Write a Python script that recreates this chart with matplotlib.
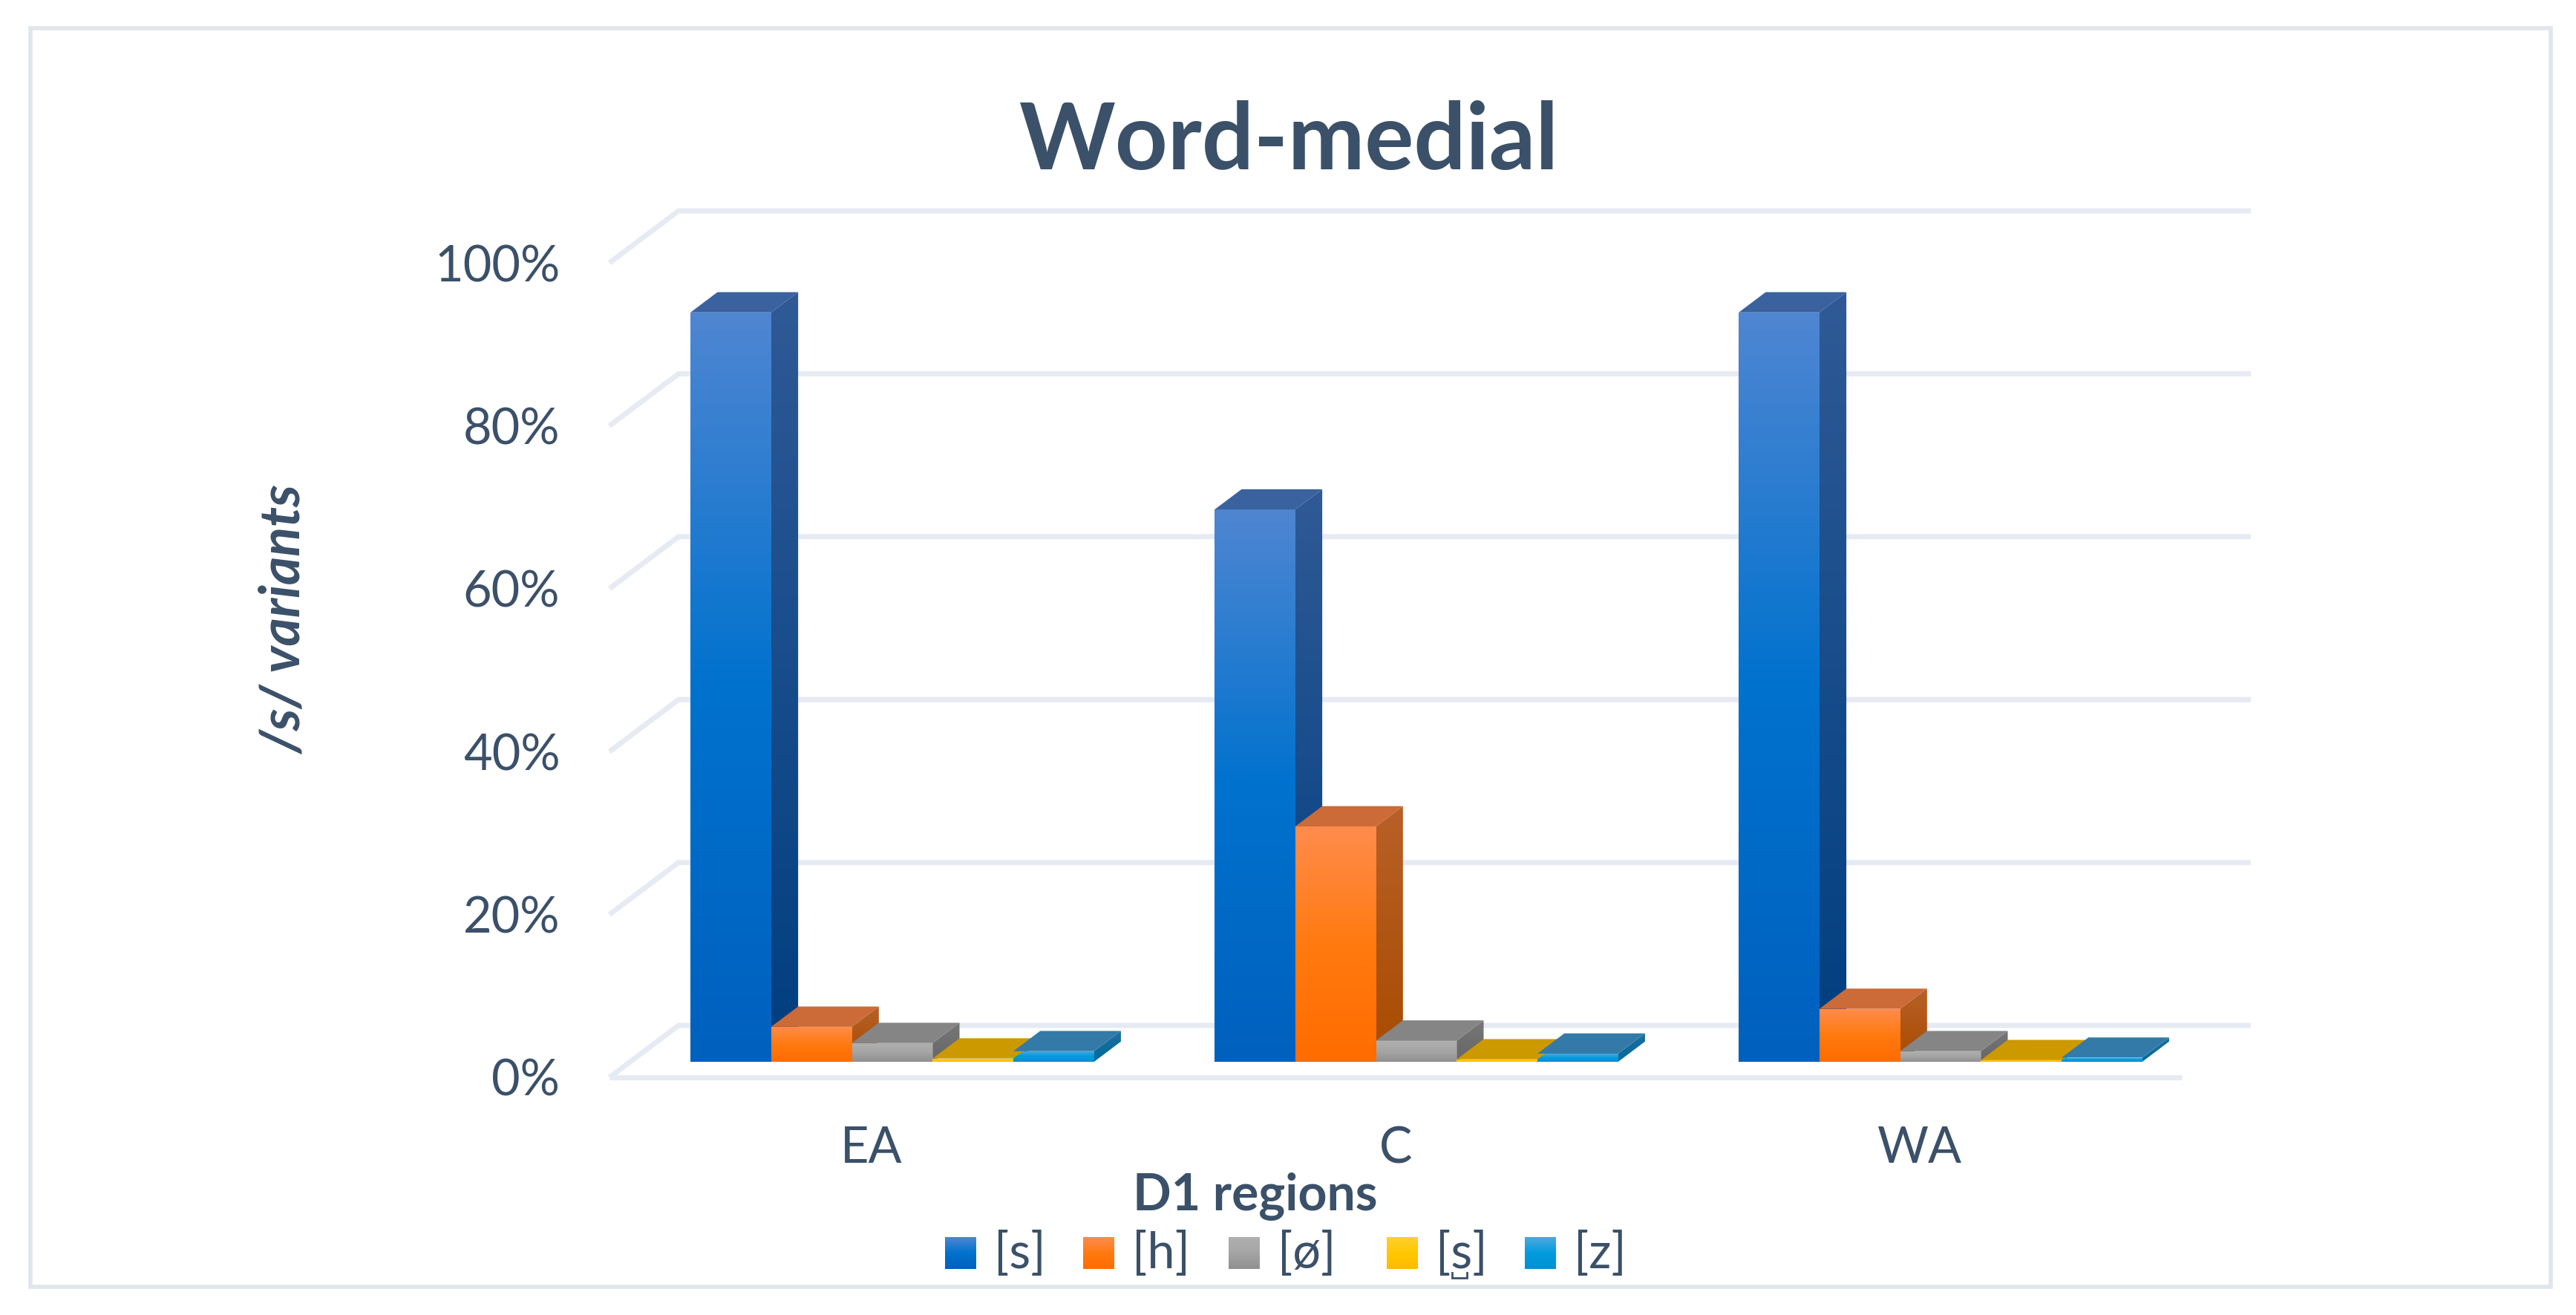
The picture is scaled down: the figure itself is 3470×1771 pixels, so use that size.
import numpy as np
import matplotlib
matplotlib.use('Agg')
from matplotlib import pyplot as plt
from matplotlib.colors import LinearSegmentedColormap
from matplotlib.lines import Line2D
from matplotlib.patches import Polygon, Rectangle

categories = ['EA', 'C', 'WA']
series_names = ['[s]', '[h]', '[ø]', '[s]', '[z]']
s_values = [92.0, 67.8, 92.0]
h_values = [4.3, 28.9, 6.5]
null_values = [2.3, 2.6, 1.3]
dental_values = [0.4, 0.3, 0.2]
z_values = [1.3, 1.0, 0.5]
all_values = [s_values, h_values, null_values, dental_values, z_values]

y_ticks = [0, 20, 40, 60, 80, 100]
y_labels = ['0%', '20%', '40%', '60%', '80%', '100%']

# front face (top, mid, bottom), side (top, bottom), top face
front_cols = [['#4F86D2', '#0072CE', '#0060BE'],
              ['#FF8C4D', '#FF7A10', '#FF6C00'],
              ['#B0B0B0', '#A5A5A5', '#909090'],
              ['#FFD030', '#FFC800', '#FFBA00'],
              ['#50A8E0', '#009CDE', '#0090D0']]
side_cols = [['#2F5A96', '#003E80'],
             ['#B86028', '#A84C00'],
             ['#777777', '#666666'],
             ['#AA8000', '#A07800'],
             ['#1F6F9F', '#006A9A']]
top_cols = ['#3A629E', '#CC6A38', '#858585', '#CC9900', '#337AA8']

text_col = '#3B5069'
grid_col = '#E6EAF2'
frame_col = '#DFE6EC'

W, H = 3470, 1771
plt.rcParams['font.family'] = ['Lato', 'DejaVu Sans']

fig = plt.figure(figsize=(W / 100, H / 100), dpi=100)
fig.add_artist(Rectangle((41 / W, 1 - 1733 / H), (3436 - 41) / W, (1733 - 38) / H,
                         transform=fig.transFigure, fill=False, ec=frame_col, lw=4))

# axes = front plane of the 3D box
ax = fig.add_axes([821 / W, 1 - 1451 / H, (2939 - 821) / W, (1451 - 354) / H])
ax.set_xlim(-0.5, 2.5)
ax.set_ylim(0, 100)
for sp in ax.spines.values():
    sp.set_visible(False)

depth_x = 93 / 706    # category units
depth_y = 70 / 10.97  # percent units
bar_w = 108.7 / 706
z0, z1 = 0.3, 0.69


def proj(x, y, z):
    return x + z * depth_x, y + z * depth_y


def grad_poly(pts, cols):
    pts = np.array(pts)
    cmap = LinearSegmentedColormap.from_list('g', cols)
    grad = np.linspace(0, 1, 256).reshape(-1, 1)
    ext = [pts[:, 0].min(), pts[:, 0].max(), pts[:, 1].min(), pts[:, 1].max()]
    im = ax.imshow(grad, cmap=cmap, extent=ext, aspect='auto', origin='upper',
                   zorder=3, interpolation='bilinear')
    poly = Polygon(pts, transform=ax.transData, fc='none', ec='none')
    ax.add_patch(poly)
    im.set_clip_path(poly)


# walls
for v in y_ticks:
    a = proj(-0.5, v, 0)
    b = proj(-0.5, v, 1)
    c = proj(2.5, v, 1)
    ax.plot([a[0], b[0], c[0]], [a[1], b[1], c[1]], color=grid_col, lw=5,
            solid_joinstyle='miter', solid_capstyle='butt', clip_on=False, zorder=1)
ax.plot([-0.5, 2.5], [0, 0], color=grid_col, lw=5, solid_capstyle='butt', clip_on=False, zorder=1)

# bars
for i in range(3):
    for j in range(5):
        v = all_values[j][i]
        x0 = i - 2.5 * bar_w + j * bar_w
        x1 = x0 + bar_w
        base = proj(x0, 0, z0)
        fl = base[0]
        fr = proj(x1, 0, z0)[0]
        yb = base[1]
        yt = proj(x0, v, z0)[1]
        bl = proj(x0, v, z1)
        br = proj(x1, v, z1)
        brb = proj(x1, 0, z1)
        grad_poly([(fr, yb), (fr, yt), br, brb], side_cols[j])
        ax.add_patch(Polygon([(fl, yt), (fr, yt), br, bl], fc=top_cols[j], ec='none', zorder=3.2))
        grad_poly([(fl, yb), (fr, yb), (fr, yt), (fl, yt)], front_cols[j])

ax.set_xlim(-0.5, 2.5)
ax.set_ylim(0, 100)
ax.set_xticks(range(3), categories)
ax.set_yticks(y_ticks, y_labels)
ax.tick_params(axis='both', length=0, labelsize=48, labelcolor=text_col)
ax.tick_params(axis='y', pad=48)
ax.tick_params(axis='x', pad=47)

fig.text(1737 / W, 1 - 192 / H, 'Word-medial', fontsize=89, fontweight='bold', color=text_col,
         ha='center', va='center')
fig.text(383 / W, 1 - 834 / H, '/s/ variants', fontsize=53, fontweight='bold', fontstyle='italic',
         color=text_col, rotation=90, ha='center', va='center')
fig.text(1691 / W, 1 - 1612 / H, 'D1 regions', fontsize=49, fontweight='bold', color=text_col,
         ha='center', va='center')

# legend
swatch_x = [1273, 1459, 1655, 1868, 2054]
for name, cols, sx in zip(series_names, front_cols, swatch_x):
    sax = fig.add_axes([sx / W, 1 - 1709 / H, 42 / W, 43 / H])
    sax.imshow(np.linspace(0, 1, 64).reshape(-1, 1), aspect='auto',
               cmap=LinearSegmentedColormap.from_list('g', cols))
    sax.axis('off')
    fig.text((sx + 66) / W, 1 - 1708 / H, name, fontsize=48, color=text_col, ha='left', va='baseline')
# bridge below the fourth [s]
fig.add_artist(Line2D(np.array([1956, 1956, 1976, 1976]) / W,
                      1 - np.array([1714, 1721, 1721, 1714]) / H,
                      color=text_col, lw=2, solid_joinstyle='miter'))

fig.savefig('out.png', dpi=100)
